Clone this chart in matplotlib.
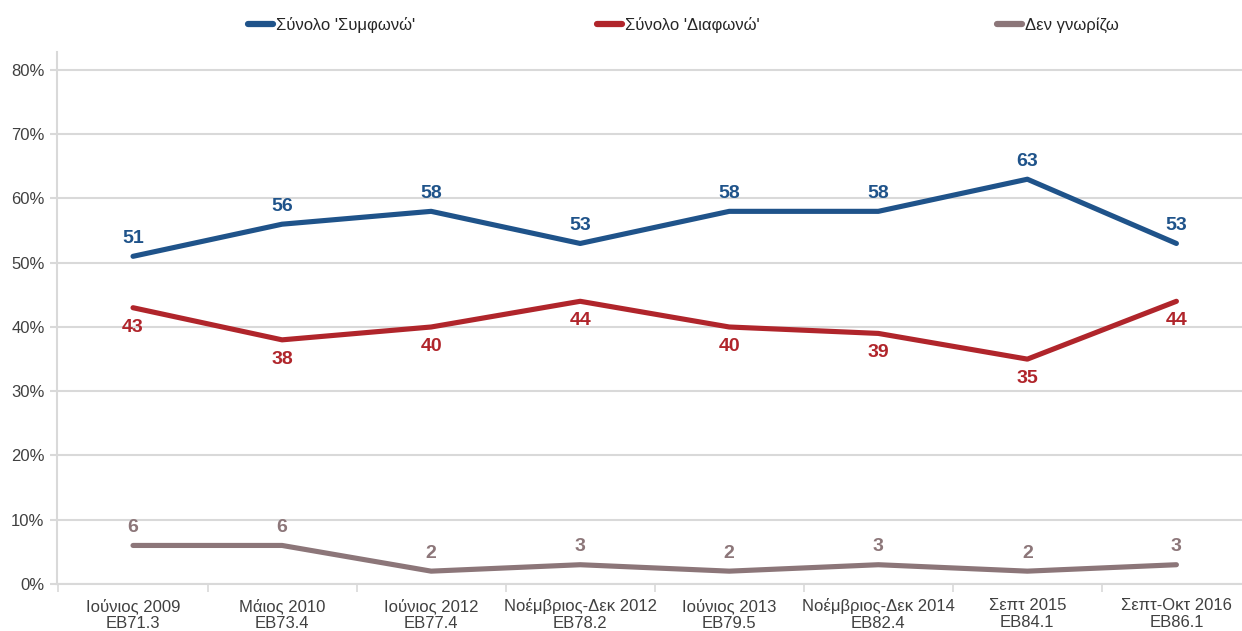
import matplotlib
matplotlib.use("Agg")
import matplotlib.pyplot as plt
from matplotlib.lines import Line2D
from matplotlib.ticker import FixedLocator, FuncFormatter

categories = ["Ιούνιος 2009\nEB71.3", "Μάιος 2010\nEB73.4", "Ιούνιος 2012\nEB77.4",
              "Νοέμβριος-Δεκ 2012\nEB78.2", "Ιούνιος 2013\nEB79.5",
              "Νοέμβριος-Δεκ 2014\nEB82.4", "Σεπτ 2015\nEB84.1", "Σεπτ-Οκτ 2016\nEB86.1"]
agree = [51, 56, 58, 53, 58, 58, 63, 53]
disagree = [43, 38, 40, 44, 40, 39, 35, 44]
dontknow = [6, 6, 2, 3, 2, 3, 2, 3]
series_names = ["Σύνολο 'Συμφωνώ'", "Σύνολο 'Διαφωνώ'", "Δεν γνωρίζω"]
yticks = [0, 10, 20, 30, 40, 50, 60, 70, 80]

colors = ["#1F538A", "#B0252B", "#8C7679"]
FONT = ["Liberation Sans Narrow", "Liberation Sans", "DejaVu Sans"]
plt.rcParams["font.family"] = FONT

fig = plt.figure(figsize=(12.42, 6.31), dpi=100)
W, H = 1242, 631
ax = fig.add_axes([57 / W, 47 / H, (W - 57) / W, (584 - 52) / H])

x = list(range(len(categories)))
lw = 3.7
for vals, c, off in [(agree, colors[0], 13), (disagree, colors[1], -14), (dontknow, colors[2], 13)]:
    ax.plot(x, vals, color=c, lw=lw, solid_capstyle="round", solid_joinstyle="round", zorder=3)
    for xi, v in zip(x, vals):
        ax.annotate(str(v), (xi, v), xytext=(0, off), textcoords="offset points",
                    ha="center", va="center", fontsize=14, fontweight="bold", color=c,
                    family=["Liberation Sans", "DejaVu Sans"])

ax.set_xlim(-0.51, 7.44)
ax.set_ylim(0, 82.8)
ax.yaxis.set_major_locator(FixedLocator(yticks))
ax.yaxis.set_major_formatter(FuncFormatter(lambda v, p: f"{int(v)}%"))
ax.grid(axis="y", color="#D9D9D9", lw=1.5, zorder=0)
ax.set_axisbelow(True)

ax.set_xticks(x)
ax.set_xticklabels(categories, fontsize=12, color="#404040", linespacing=1.15)
ax.set_xticks([i - 0.5 for i in range(len(categories))], minor=True)
ax.tick_params(axis="x", which="major", length=0, pad=10)
ax.tick_params(axis="x", which="minor", length=6, color="#D9D9D9", width=1.2)
ax.tick_params(axis="y", length=5, color="#D9D9D9", width=1.5, labelsize=12, labelcolor="#404040", pad=4)

for s in ["top", "right"]:
    ax.spines[s].set_visible(False)
ax.spines["left"].set_color("#D9D9D9")
ax.spines["left"].set_linewidth(1.5)
ax.spines["bottom"].set_color("#D9D9D9")
ax.spines["bottom"].set_linewidth(1.5)

# legend: three separately placed entries
leg_x = [248, 597, 997]
for name, c, lx in zip(series_names, colors, leg_x):
    h = Line2D([], [], color=c, lw=4.5, solid_capstyle="round")
    lg = fig.legend([h], [name], loc="center left", bbox_to_anchor=(lx / W, 1 - 25 / H),
                    frameon=False, handlelength=1.5, handletextpad=0.2, borderpad=0,
                    borderaxespad=0, fontsize=12, labelcolor="#262626")

fig.savefig("out.png", dpi=100)
